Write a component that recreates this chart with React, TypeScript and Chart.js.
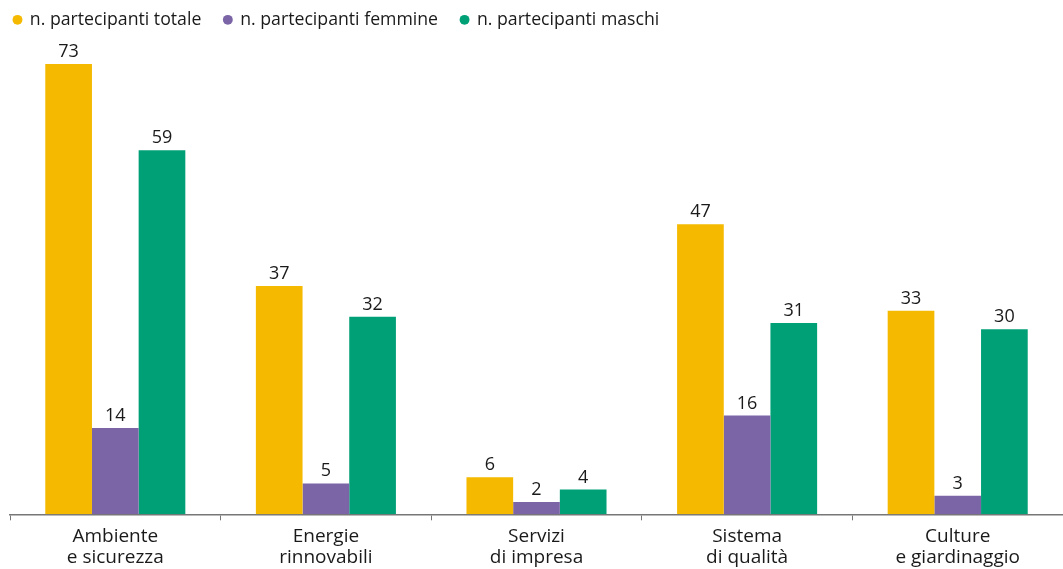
import React, { useEffect, useRef } from "react";
import { Chart, registerables } from "chart.js";

Chart.register(...registerables);

const categories: string[][] = [
  ["Ambiente", "e sicurezza"],
  ["Energie", "rinnovabili"],
  ["Servizi", "di impresa"],
  ["Sistema", "di qualità"],
  ["Culture", "e giardinaggio"],
];
const seriesNames = ["n. partecipanti totale", "n. partecipanti femmine", "n. partecipanti maschi"];
const totale = [73, 37, 6, 47, 33];
const femmine = [14, 5, 2, 16, 3];
const maschi = [59, 32, 4, 31, 30];
const colors = ["#F5BA00", "#7B65A7", "#00A077"];

const FONT = "'Open Sans', 'Noto Sans', sans-serif";

const valueLabels = {
  id: "valueLabels",
  afterDatasetsDraw(chart: any) {
    const ctx = chart.ctx;
    ctx.save();
    ctx.font = `18px ${FONT}`;
    ctx.fillStyle = "#1a1a1a";
    ctx.textAlign = "center";
    ctx.textBaseline = "alphabetic";
    chart.data.datasets.forEach((ds: any, i: number) => {
      const meta = chart.getDatasetMeta(i);
      meta.data.forEach((bar: any, j: number) => {
        ctx.fillText(String(ds.data[j]), bar.x, bar.y - 7);
      });
    });
    ctx.restore();
  },
};

export default function App() {
  const ref = useRef<HTMLCanvasElement>(null);
  useEffect(() => {
    if (!ref.current) return;
    const chart = new Chart(ref.current, {
      type: "bar",
      data: {
        labels: categories,
        datasets: [totale, femmine, maschi].map((d, i) => ({
          label: seriesNames[i],
          data: d,
          backgroundColor: colors[i],
          borderWidth: 0,
          categoryPercentage: 0.665,
          barPercentage: 1,
        })),
      },
      options: {
        animation: false,
        responsive: false,
        maintainAspectRatio: false,
        layout: { padding: { left: -9, right: 0, top: -12, bottom: -5 } },
        plugins: {
          legend: {
            position: "top",
            align: "start",
            labels: {
              usePointStyle: true,
              pointStyle: "circle",
              boxWidth: 7,
              boxHeight: 7,
              padding: 23,
              color: "#1a1a1a",
              font: { family: FONT, size: 17.7 },
            },
          },
          title: {
            display: true,
            text: " ",
            position: "top",
            weight: 500,
            font: { size: 6 },
            padding: { top: 0, bottom: 18 },
          },
          tooltip: { enabled: false },
        },
        scales: {
          x: {
            grid: {
              display: true,
              drawOnChartArea: false,
              drawTicks: true,
              tickLength: 6,
              color: "#777",
              offset: true,
            },
            border: { display: true, color: "#777", width: 1.5 },
            ticks: {
              color: "#1a1a1a",
              font: { family: FONT, size: 19, lineHeight: 1.15 },
              padding: 5,
              maxRotation: 0,
              autoSkip: false,
            },
          },
          y: {
            display: true,
            min: 0,
            max: 73,
            ticks: { display: false },
            grid: { display: false },
            border: { display: false },
            afterFit: (s: any) => {
              s.width = 19;
            },
          },
        },
      },
      plugins: [valueLabels],
    });
    return () => chart.destroy();
  }, []);
  return (
    <div style={{ position: "fixed", left: 0, top: 0, width: 1063, height: 569, background: "#fff" }}>
      <canvas ref={ref} width={1063} height={569} />
    </div>
  );
}
